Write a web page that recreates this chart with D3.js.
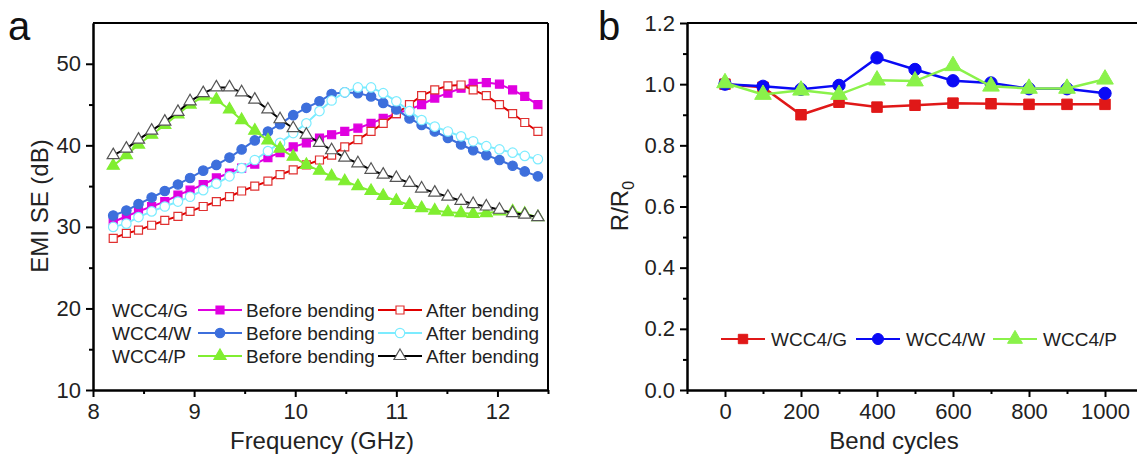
<!DOCTYPE html>
<html>
<head>
<meta charset="utf-8">
<script src="https://cdn.jsdelivr.net/npm/d3@7"></script>
<style>
  body { margin: 0; background: #fff; }
  svg { font-family: "Liberation Sans", Arial, sans-serif; }
  .axis path, .axis line { stroke: #000; stroke-width: 2; }
  .axis text { font-size: 22px; fill: #222; }
</style>
</head>
<body>
<div id="chart"></div>
<script>
// panel a: EMI SE vs frequency
const freq = [8.20, 8.33, 8.45, 8.58, 8.71, 8.84, 8.96, 9.09, 9.22, 9.35, 9.47, 9.60,
    9.73, 9.85, 9.98, 10.11, 10.24, 10.36, 10.49, 10.62, 10.75, 10.87, 11.00, 11.13,
    11.25, 11.38, 11.51, 11.64, 11.76, 11.89, 12.02, 12.15, 12.27, 12.40];
const gBefore = [30.6, 31.3, 31.9, 32.5, 33.1, 33.9, 34.5, 35.2, 36.0, 36.6, 37.2, 37.7,
    38.5, 39.1, 39.8, 40.3, 40.9, 41.3, 41.7, 42.1, 42.7, 43.3, 43.9, 44.4,
    45.0, 45.8, 46.4, 47.0, 47.6, 47.7, 47.5, 46.8, 46.0, 45.0];
const gAfter = [28.6, 29.2, 29.6, 30.2, 30.8, 31.3, 31.9, 32.5, 33.1, 33.7, 34.4, 35.0,
    35.6, 36.4, 37.0, 37.6, 38.2, 38.8, 39.8, 40.7, 41.7, 42.7, 43.9, 45.0,
    46.1, 46.8, 47.3, 47.4, 46.8, 46.1, 45.0, 43.9, 42.8, 41.7];
const wBefore = [31.4, 32.0, 32.8, 33.6, 34.4, 35.2, 36.0, 36.9, 37.6, 38.5, 39.5, 40.6,
    41.7, 42.6, 43.7, 44.6, 45.4, 46.3, 46.5, 46.4, 46.0, 45.2, 44.4, 43.3,
    42.5, 41.7, 40.9, 40.1, 39.4, 38.8, 38.2, 37.5, 36.8, 36.2];
const wAfter = [30.0, 30.4, 31.2, 31.9, 32.5, 33.1, 33.7, 34.5, 35.3, 36.2, 37.2, 38.2,
    39.3, 40.3, 41.5, 42.7, 44.2, 45.5, 46.5, 47.1, 47.1, 46.4, 45.4, 44.2,
    43.1, 42.3, 41.7, 41.1, 40.5, 39.9, 39.5, 39.1, 38.7, 38.3];
const pBefore = [37.5, 38.8, 40.1, 41.3, 42.5, 43.8, 45.0, 46.0, 45.6, 44.4, 43.1, 41.8,
    40.6, 39.6, 38.6, 37.6, 36.9, 36.2, 35.6, 35.0, 34.4, 33.8, 33.2, 32.7,
    32.3, 32.0, 31.8, 31.7, 31.6, 31.7, 31.9, 31.9, 31.6, 31.2];
const pAfter = [38.8, 39.6, 40.7, 41.8, 42.9, 44.1, 45.4, 46.4, 47.1, 47.1, 46.5, 45.6,
    44.4, 43.2, 42.1, 41.3, 40.3, 39.4, 38.5, 37.8, 37.0, 36.4, 36.0, 35.4,
    34.7, 34.2, 33.7, 33.2, 32.8, 32.5, 32.1, 31.7, 31.5, 31.2];
const freqTicks = [8, 9, 10, 11, 12];
const seTicks = [10, 20, 30, 40, 50];

// panel b: R/R0 vs bend cycles
const cycles = [0, 100, 200, 300, 400, 500, 600, 700, 800, 900, 1000];
const rG = [1.000, 0.990, 0.900, 0.941, 0.925, 0.931, 0.938, 0.936, 0.934, 0.934, 0.934];
const rW = [1.000, 0.993, 0.983, 0.996, 1.086, 1.048, 1.011, 1.004, 0.985, 0.985, 0.970];
const rP = [1.004, 0.966, 0.980, 0.966, 1.013, 1.010, 1.060, 0.993, 0.986, 0.986, 1.016];
const cycleTicks = [0, 200, 400, 600, 800, 1000];
const rTicks = [0.0, 0.2, 0.4, 0.6, 0.8, 1.0, 1.2];

const W = 1137, H = 456;
const svg = d3.select("#chart").append("svg")
    .attr("width", W)
    .attr("height", H);

function marker(g, shape, cx, cy, size, fill, stroke, sw) {
    g.append("path")
        .attr("d", d3.symbol().type(shape).size(size)())
        .attr("transform", `translate(${cx},${cy})`)
        .attr("fill", fill)
        .attr("stroke", stroke)
        .attr("stroke-width", sw);
}

function drawAxes(x, y, xTicks, yTicks, xMinor, yMinor, fmtX, fmtY, right) {
    const g = svg.append("g");
    g.append("g")
        .attr("class", "axis")
        .attr("transform", `translate(0,${y.range()[0]})`)
        .call(d3.axisBottom(x).tickValues(xMinor).tickSize(4).tickSizeOuter(0).tickFormat(""));
    g.append("g")
        .attr("class", "axis")
        .attr("transform", `translate(0,${y.range()[0]})`)
        .call(d3.axisBottom(x).tickValues(xTicks).tickSize(7).tickSizeOuter(0).tickPadding(6).tickFormat(fmtX));
    g.append("g")
        .attr("class", "axis")
        .attr("transform", `translate(${x.range()[0]},0)`)
        .call(d3.axisLeft(y).tickValues(yMinor).tickSize(4).tickSizeOuter(0).tickFormat(""));
    g.append("g")
        .attr("class", "axis")
        .attr("transform", `translate(${x.range()[0]},0)`)
        .call(d3.axisLeft(y).tickValues(yTicks).tickSize(7).tickSizeOuter(0).tickPadding(5).tickFormat(fmtY));
    // top and right frame
    g.append("line")
        .attr("x1", x.range()[0]).attr("x2", x.range()[1])
        .attr("y1", y.range()[1]).attr("y2", y.range()[1])
        .attr("stroke", "#000").attr("stroke-width", 2);
    if (right) {
        g.append("line")
            .attr("x1", x.range()[1]).attr("x2", x.range()[1])
            .attr("y1", y.range()[1]).attr("y2", y.range()[0])
            .attr("stroke", "#000").attr("stroke-width", 2);
    }
}

// ---------- panel a ----------
const xA = d3.scaleLinear().domain([8, 12.5]).range([93, 548]);
const yA = d3.scaleLinear().domain([10, 55]).range([390, 23]);

drawAxes(xA, yA, freqTicks, seTicks, [8.5, 9.5, 10.5, 11.5, 12.5], [15, 25, 35, 45],
    d3.format("d"), d3.format("d"), true);

const seriesA = [
    { name: "WCC4/G", kind: "Before bending", vals: gBefore, color: "#e000e0", shape: d3.symbolSquare, fill: "#e000e0", mstroke: "#e000e0", size: 64 },
    { name: "WCC4/G", kind: "After bending", vals: gAfter, color: "#e00000", shape: d3.symbolSquare, fill: "#fff", mstroke: "#e03030", size: 64 },
    { name: "WCC4/W", kind: "Before bending", vals: wBefore, color: "#3d6fdc", shape: d3.symbolCircle, fill: "#3d6fdc", mstroke: "#3d6fdc", size: 70 },
    { name: "WCC4/W", kind: "After bending", vals: wAfter, color: "#7cecff", shape: d3.symbolCircle, fill: "#fff", mstroke: "#7cecff", size: 70 },
    { name: "WCC4/P", kind: "Before bending", vals: pBefore, color: "#80ee30", shape: d3.symbolTriangle, fill: "#80ee30", mstroke: "#80ee30", size: 64 },
    { name: "WCC4/P", kind: "After bending", vals: pAfter, color: "#000", shape: d3.symbolTriangle, fill: "#fff", mstroke: "#555", size: 64 }
];

const lineA = d3.line().x((d, i) => xA(freq[i])).y(d => yA(d));
seriesA.forEach(s => {
    const g = svg.append("g");
    g.append("path")
        .attr("d", lineA(s.vals))
        .attr("fill", "none")
        .attr("stroke", s.color)
        .attr("stroke-width", 2);
    s.vals.forEach((v, i) => marker(g, s.shape, xA(freq[i]), yA(v), s.size, s.fill, s.mstroke, 1.2));
});

// legend a
const legA = svg.append("g").style("font-size", "19px").attr("fill", "#222");
["WCC4/G", "WCC4/W", "WCC4/P"].forEach((name, r) => {
    const cy = 310 + r * 23;
    legA.append("text").attr("x", 112).attr("y", cy + 7).text(name);
    [0, 1].forEach(c => {
        const s = seriesA[r * 2 + c];
        const x0 = c === 0 ? 198 : 378;
        legA.append("line")
            .attr("x1", x0).attr("x2", x0 + 44)
            .attr("y1", cy).attr("y2", cy)
            .attr("stroke", s.color).attr("stroke-width", 2);
        marker(legA, s.shape, x0 + 22, cy, s.size, s.fill, s.mstroke, 1.2);
        legA.append("text").attr("x", x0 + 48).attr("y", cy + 7).text(s.kind);
    });
});

svg.append("text")
    .attr("x", 322).attr("y", 449)
    .attr("text-anchor", "middle")
    .style("font-size", "24px").attr("fill", "#222")
    .text("Frequency (GHz)");
svg.append("text")
    .attr("transform", "translate(48,206) rotate(-90)")
    .attr("text-anchor", "middle")
    .style("font-size", "24px").attr("fill", "#222")
    .text("EMI SE (dB)");
svg.append("text")
    .attr("x", 8).attr("y", 40)
    .style("font-size", "40px").attr("fill", "#111")
    .text("a");

// ---------- panel b ----------
const xB = d3.scaleLinear().domain([-100, 1100]).range([687, 1143]);
const yB = d3.scaleLinear().domain([0, 1.2]).range([390, 23]);

drawAxes(xB, yB, cycleTicks, rTicks, [-100, 100, 300, 500, 700, 900, 1100],
    [0.1, 0.3, 0.5, 0.7, 0.9, 1.1], d3.format("d"), d3.format(".1f"), false);

const seriesB = [
    { name: "WCC4/G", vals: rG, color: "#e01818", shape: d3.symbolSquare, size: 110 },
    { name: "WCC4/W", vals: rW, color: "#0a0af5", shape: d3.symbolCircle, size: 120 },
    { name: "WCC4/P", vals: rP, color: "#8af24a", shape: d3.symbolTriangle, size: 120 }
];

const lineB = d3.line().x((d, i) => xB(cycles[i])).y(d => yB(d));
seriesB.forEach(s => {
    const g = svg.append("g");
    g.append("path")
        .attr("d", lineB(s.vals))
        .attr("fill", "none")
        .attr("stroke", s.color)
        .attr("stroke-width", 2.5);
    s.vals.forEach((v, i) => marker(g, s.shape, xB(cycles[i]), yB(v), s.size, s.color, s.color, 1));
});

// legend b
const legB = svg.append("g").style("font-size", "19px").attr("fill", "#222");
const legBx = [721, 856, 993];
seriesB.forEach((s, i) => {
    const x0 = legBx[i], cy = 339;
    legB.append("line")
        .attr("x1", x0).attr("x2", x0 + 44)
        .attr("y1", cy).attr("y2", cy)
        .attr("stroke", s.color).attr("stroke-width", 2);
    marker(legB, s.shape, x0 + 22, cy, s.size * 0.8, s.color, s.color, 1);
    legB.append("text").attr("x", x0 + 50).attr("y", cy + 7).text(s.name);
});

svg.append("text")
    .attr("x", 894).attr("y", 449)
    .attr("text-anchor", "middle")
    .style("font-size", "24px").attr("fill", "#222")
    .text("Bend cycles");
const rLabel = svg.append("text")
    .attr("transform", "translate(628,206) rotate(-90)")
    .attr("text-anchor", "middle")
    .style("font-size", "24px").attr("fill", "#222");
rLabel.append("tspan").text("R/R");
rLabel.append("tspan").attr("dy", 6).style("font-size", "16px").text("0");
svg.append("text")
    .attr("x", 598).attr("y", 40)
    .style("font-size", "40px").attr("fill", "#111")
    .text("b");
</script>
</body>
</html>
